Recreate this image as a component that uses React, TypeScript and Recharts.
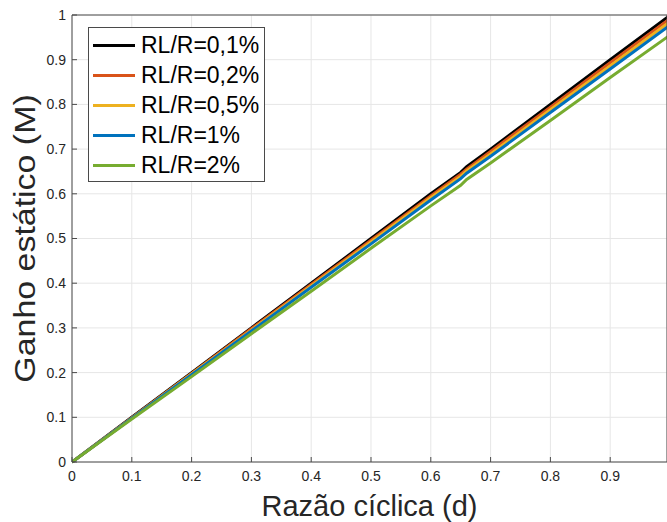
import React from "react";
import { LineChart, Line, XAxis, YAxis, CartesianGrid } from "recharts";

// razão cíclica (d) sample points
const D = [0, 0.1, 0.2, 0.3, 0.4, 0.5, 0.6, 0.65, 0.66, 0.7, 0.8, 0.9, 1.0];

// static gain for each RL/R ratio
const M_01 = [0, 0.1, 0.2, 0.3, 0.4, 0.5, 0.6, 0.648, 0.661, 0.7, 0.8, 0.9, 0.999];
const M_02 = [0, 0.099, 0.198, 0.298, 0.397, 0.496, 0.595, 0.644, 0.655, 0.695, 0.794, 0.893, 0.992];
const M_05 = [0, 0.098, 0.197, 0.295, 0.394, 0.492, 0.591, 0.639, 0.651, 0.689, 0.788, 0.886, 0.985];
const M_1 = [0, 0.098, 0.195, 0.293, 0.391, 0.488, 0.586, 0.634, 0.646, 0.684, 0.782, 0.879, 0.977];
const M_2 = [0, 0.096, 0.191, 0.287, 0.382, 0.478, 0.573, 0.619, 0.632, 0.669, 0.764, 0.86, 0.955];

const X_TICKS = [0, 0.1, 0.2, 0.3, 0.4, 0.5, 0.6, 0.7, 0.8, 0.9];
const Y_TICKS = [0, 0.1, 0.2, 0.3, 0.4, 0.5, 0.6, 0.7, 0.8, 0.9, 1];

const SERIES = [
  { key: "m01", name: "RL/R=0,1%", color: "#000000", values: M_01 },
  { key: "m02", name: "RL/R=0,2%", color: "#D95319", values: M_02 },
  { key: "m05", name: "RL/R=0,5%", color: "#EDB120", values: M_05 },
  { key: "m1", name: "RL/R=1%", color: "#0072BD", values: M_1 },
  { key: "m2", name: "RL/R=2%", color: "#77AC30", values: M_2 },
];

const data = D.map((d, i) => {
  const row: Record<string, number> = { d };
  SERIES.forEach((s) => (row[s.key] = s.values[i]));
  return row;
});

const FONT = "'Liberation Sans', Arial, Helvetica, sans-serif";
const AXIS = "#4a4a4a";
const TEXT = "#262626";
const tickStyle = { fontSize: 14, fill: TEXT, fontFamily: FONT };

export default function App() {
  return (
    <div
      style={{
        position: "absolute",
        left: 0,
        top: 0,
        width: 667,
        height: 522,
        overflow: "hidden",
        background: "#fff",
      }}
    >
      <LineChart
        width={668}
        height={522}
        data={data}
        margin={{ top: 14, right: 0, left: 0, bottom: 0 }}
      >
        <CartesianGrid stroke="#e6e6e6" strokeWidth={1} />
        <XAxis
          dataKey="d"
          type="number"
          domain={[0, 0.995]}
          allowDataOverflow
          ticks={X_TICKS}
          tickFormatter={(v) => String(v)}
          height={60}
          tickSize={-5}
          tickMargin={14}
          stroke={AXIS}
          tick={tickStyle}
          label={{
            value: "Razão cíclica (d)",
            position: "insideBottom",
            offset: 6,
            fontSize: 29,
            fill: TEXT,
            fontFamily: FONT,
          }}
        />
        <XAxis
          xAxisId="top"
          orientation="top"
          type="number"
          domain={[0, 0.995]}
          allowDataOverflow
          ticks={X_TICKS}
          height={1}
          tick={false}
          tickSize={-5}
          stroke={AXIS}
        />
        <YAxis
          type="number"
          domain={[0, 1]}
          ticks={Y_TICKS}
          tickFormatter={(v) => String(v)}
          width={72}
          tickSize={-5}
          tickMargin={11}
          stroke={AXIS}
          tick={tickStyle}
          label={({ viewBox }: any) => (
            <text
              transform={`translate(25, ${viewBox.y + viewBox.height / 2}) rotate(-90) scale(1.17, 1)`}
              textAnchor="middle"
              dominantBaseline="central"
              fontSize={29}
              fill={TEXT}
              fontFamily={FONT}
            >
              Ganho estático (M)
            </text>
          )}
        />
        <YAxis
          yAxisId="right"
          orientation="right"
          type="number"
          domain={[0, 1]}
          ticks={Y_TICKS}
          width={1}
          tick={false}
          tickSize={-5}
          stroke={AXIS}
        />
        {SERIES.map((s) => (
          <Line
            key={s.key}
            dataKey={s.key}
            name={s.name}
            stroke={s.color}
            strokeWidth={3}
            dot={false}
            type="linear"
            isAnimationActive={false}
          />
        ))}
      </LineChart>
      <div
        style={{
          position: "absolute",
          left: 88,
          top: 27,
          width: 177,
          height: 155,
          boxSizing: "border-box",
          border: `1px solid ${AXIS}`,
          background: "#fff",
          padding: "2px 0",
          fontFamily: FONT,
        }}
      >
        {SERIES.map((s) => (
          <div
            key={s.key}
            style={{ display: "flex", alignItems: "center", height: 30 }}
          >
            <div
              style={{
                marginLeft: 4,
                width: 42,
                height: 3,
                background: s.color,
              }}
            />
            <span
              style={{
                marginLeft: 6,
                fontSize: 23,
                color: "#000",
                whiteSpace: "nowrap",
              }}
            >
              {s.name}
            </span>
          </div>
        ))}
      </div>
    </div>
  );
}
